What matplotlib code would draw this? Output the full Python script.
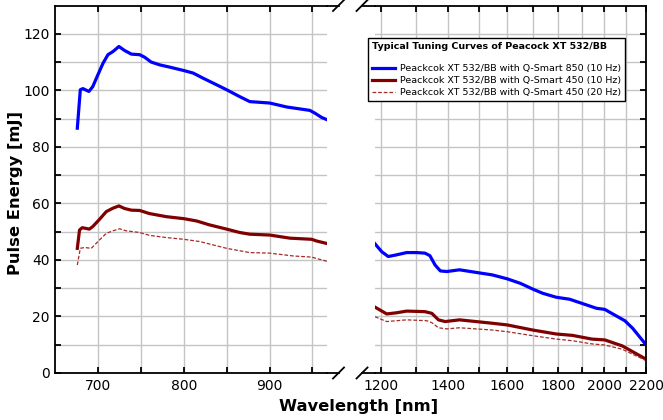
import numpy as np
import matplotlib
matplotlib.use("Agg")
import matplotlib.pyplot as plt
from matplotlib.ticker import FixedLocator, NullFormatter, FixedFormatter
from matplotlib.lines import Line2D

# ---- data ----
wl_left_850 = [676, 679.5, 682.5, 689.5, 694, 700, 706, 711.7, 717.5, 724.5, 731, 739, 748.7,
               754.5, 762, 772, 783.7, 800, 811, 822.5, 838, 850, 865, 877, 900.3, 920, 947,
               953, 960.7, 967]
e_left_850 = [86.6, 100.2, 100.6, 99.6, 101.3, 105.5, 109.6, 112.6, 113.7, 115.5, 114.1, 112.8,
              112.6, 111.7, 110.0, 109.0, 108.2, 107.0, 106.1, 104.3, 102.0, 100.2, 97.8, 96.0,
              95.5, 94.1, 92.9, 91.9, 90.4, 89.6]

wl_left_450 = [676, 678.6, 681.8, 690, 694, 702, 709.8, 717.5, 724.5, 731, 739, 748.7, 760, 779.8,
               800, 814.8, 830, 850, 865.3, 877, 900.3, 923.7, 949, 954.8, 967]
e_left_450 = [44.1, 50.6, 51.4, 50.9, 51.8, 54.4, 57.1, 58.3, 59.1, 58.2, 57.6, 57.5, 56.4, 55.3,
              54.6, 53.8, 52.4, 50.9, 49.7, 49.1, 48.8, 47.7, 47.3, 46.7, 45.8]

wl_left_450_20 = [676, 679.5, 684.5, 692.3, 702, 709.8, 717.5, 725.3, 733, 748.7, 760, 779.8, 800,
                  818.7, 850, 877, 900.3, 927.7, 949, 967]
e_left_450_20 = [38.2, 44.1, 44.4, 44.1, 47.1, 49.4, 50.3, 51.0, 50.3, 49.7, 48.7, 47.9, 47.3,
                 46.5, 44.1, 42.6, 42.4, 41.4, 41.0, 39.5]

wl_right_850 = [1183.6, 1202, 1220, 1243.5, 1272.5, 1302, 1327, 1342, 1358, 1374.5, 1395, 1436,
                1490.5, 1548, 1602, 1651, 1697.5, 1737, 1791.5, 1847, 1897.5, 1964, 2002, 2041,
                2096, 2134, 2200]
e_right_850 = [45.7, 42.9, 41.2, 41.8, 42.6, 42.6, 42.4, 41.5, 38.2, 36.1, 35.9, 36.5, 35.6, 34.7,
               33.3, 31.7, 29.7, 28.2, 26.8, 26.1, 24.7, 22.9, 22.5, 20.8, 18.5, 15.8, 10.0]

wl_right_450 = [1183.6, 1215.8, 1243.5, 1272.5, 1327, 1348, 1368.5, 1389.5, 1436, 1548, 1602,
                1697.5, 1791.5, 1860, 1943.5, 2002, 2083.5, 2200]
e_right_450 = [23.3, 20.9, 21.3, 21.9, 21.7, 21.1, 18.8, 18.2, 18.8, 17.6, 17.0, 15.2, 13.8, 13.3,
               12.0, 11.7, 9.6, 4.9]

wl_right_450_20 = [1183.6, 1215.8, 1272.5, 1332, 1348, 1368.5, 1395, 1436, 1548, 1602, 1697.5,
                   1791.5, 1860, 1943.5, 2002, 2083.5, 2200]
e_right_450_20 = [19.9, 18.2, 18.8, 18.5, 17.8, 16.0, 15.6, 16.0, 15.2, 14.6, 13.2, 12.0, 11.4,
                  10.3, 9.9, 8.4, 4.4]

labels = ["Peackcok XT 532/BB with Q-Smart 850 (10 Hz)",
          "Peackcok XT 532/BB with Q-Smart 450 (10 Hz)",
          "Peackcok XT 532/BB with Q-Smart 450 (20 Hz)"]
legend_title = "Typical Tuning Curves of Peacock XT 532/BB"
left_major = [700, 800, 900]
left_minor = [750, 850, 950]
right_major = [1200, 1400, 1600, 1800, 2000, 2200]
right_minor = [1300, 1500, 1700, 1900, 2100]
y_major = [0, 20, 40, 60, 80, 100, 120]
y_minor = [10, 30, 50, 70, 90, 110]

# ---- style ----
BLUE = "#0000ff"
RED = "#800000"
RED2 = "#a52a2a"
GRID = "#c4c4c4"

plt.rcParams['font.family'] = ['DejaVu Sans']

W, H = 663, 420
fig = plt.figure(figsize=(W / 100, H / 100), dpi=100)

def fx(px):
    return px / W

def fy(py):
    return 1 - py / H

top_px, bot_px = 5.5, 373
axL = fig.add_axes([fx(55), fy(bot_px), fx(327) - fx(55), (bot_px - top_px) / H])
axR = fig.add_axes([fx(375), fy(bot_px), fx(646) - fx(375), (bot_px - top_px) / H])

lw = 2.3
for ax, (x1, y1, x2, y2, x3, y3) in [
        (axL, (wl_left_850, e_left_850, wl_left_450, e_left_450, wl_left_450_20, e_left_450_20)),
        (axR, (wl_right_850, e_right_850, wl_right_450, e_right_450, wl_right_450_20, e_right_450_20))]:
    ax.plot(x1, y1, color=BLUE, lw=lw, solid_joinstyle='round', label=labels[0])
    ax.plot(x2, y2, color=RED, lw=lw, solid_joinstyle='round', label=labels[1])
    ax.plot(x3, y3, color=RED2, lw=0.9, ls=(0, (3, 1.5)), label=labels[2])
    ax.set_ylim(0, 130)
    ax.yaxis.set_major_locator(FixedLocator(y_major))
    ax.yaxis.set_minor_locator(FixedLocator(y_minor))
    ax.grid(True, which='both', color=GRID, lw=1.0)
    ax.set_axisbelow(True)
    ax.tick_params(which='both', direction='in', length=4.5, width=1.3, top=True,
                   labelsize=10, pad=4, color='black')
    for s in ax.spines.values():
        s.set_linewidth(1.3)

axL.set_xlim(650, 967)
axL.xaxis.set_major_locator(FixedLocator(left_major))
axL.xaxis.set_minor_locator(FixedLocator(left_minor))
axL.xaxis.set_minor_formatter(NullFormatter())
axL.spines['right'].set_visible(False)
axL.tick_params(which='both', right=False, left=True)

axR.set_xscale('log')
axR.set_xlim(1183.6, 2200)
axR.xaxis.set_major_locator(FixedLocator(right_major))
axR.xaxis.set_major_formatter(FixedFormatter([str(v) for v in right_major]))
axR.xaxis.set_minor_locator(FixedLocator(right_minor))
axR.xaxis.set_minor_formatter(NullFormatter())
axR.spines['left'].set_visible(False)
axR.tick_params(which='both', left=False, right=True, labelleft=False)

fig.text(fx(16), fy(193), "Pulse Energy [mJ]", fontsize=11.8, fontweight='bold',
         ha='center', va='center', rotation=90)
fig.text(fx(359), fy(406), "Wavelength [nm]", fontsize=11.8, fontweight='bold',
         ha='center', va='center')

# extended spines and break marks
for ypx in (top_px, bot_px):
    fig.add_artist(Line2D([fx(327), fx(339)], [fy(ypx), fy(ypx)], color='black', lw=1.3))
    fig.add_artist(Line2D([fx(362), fx(375)], [fy(ypx), fy(ypx)], color='black', lw=1.3))
    for cx in (338.5, 362):
        fig.add_artist(Line2D([fx(cx - 5.5), fx(cx + 5.5)], [fy(ypx + 5.5), fy(ypx - 5.5)],
                              color='black', lw=1.3))

# legend
handles, _ = axR.get_legend_handles_labels()
leg = fig.legend(handles, labels, title=legend_title + "\n", loc='upper left',
                 bbox_to_anchor=(fx(368), fy(38)), fontsize=6.8, title_fontsize=6.8,
                 frameon=True, fancybox=False, edgecolor='black', framealpha=1,
                 handlelength=2.4, handletextpad=0.5, borderpad=0.45, labelspacing=0.3,
                 borderaxespad=0, alignment='left')
leg.get_title().set_fontweight('bold')
leg.get_frame().set_linewidth(1.0)

fig.savefig("out.png", dpi=100)
